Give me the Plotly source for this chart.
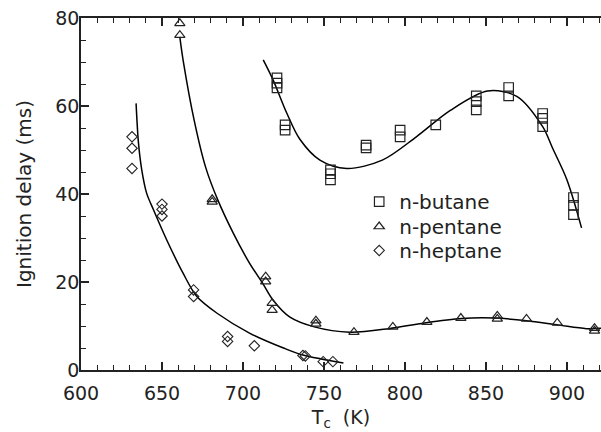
import plotly.graph_objects as go

butane_T = [721, 721, 721, 726, 726, 754, 754, 754, 776, 776, 797, 797, 819,
            844, 844, 844, 864, 864, 885, 885, 885, 904, 904, 904]
butane_delay = [66.4, 65.2, 64.1, 55.7, 54.5, 45.5, 44.6, 43.2, 50.5, 51.1, 54.5, 53.0, 55.7,
                62.3, 61.0, 59.1, 64.2, 62.3, 58.3, 57.2, 55.3, 39.2, 37.4, 35.3]

pentane_T = [661, 661, 681, 681, 714, 714, 718, 718, 745, 745, 768.5, 792.5, 813.5,
             834.5, 857, 857, 875, 894, 917, 917]
pentane_delay = [78.8, 76.1, 38.8, 38.2, 21.2, 20.1, 15.2, 13.6, 11.2, 10.5, 8.6, 9.8, 10.9,
                 11.8, 12.3, 11.6, 11.6, 10.7, 9.5, 8.9]

heptane_T = [631.5, 631.5, 631.5, 650, 650, 650, 669.5, 669.5, 690.5, 690.5, 707,
             737, 738.5, 749.5, 755.5]
heptane_delay = [53.0, 50.4, 45.8, 37.7, 36.5, 35.0, 18.2, 16.7, 7.6, 6.5, 5.5,
                 3.3, 3.2, 1.9, 1.9]

# fitted curves as drawn in the figure
butane_fit_T = [712.5, 718.5, 727, 735, 747.5, 764, 786, 807, 828, 851, 869, 885, 891, 900, 909]
butane_fit_delay = [70.5, 66.0, 58.4, 52.5, 47.7, 45.8, 47.7, 53.0, 59.0, 63.4, 62.2, 55.3, 50.5, 43.2, 32.3]

pentane_fit_T = [661, 663, 670, 677, 684.5, 694, 704, 712, 718.5, 729, 744, 766, 790, 812,
                 835, 855, 875, 895, 912, 922]
pentane_fit_delay = [75.7, 70.5, 56.5, 46.0, 38.6, 31.1, 24.3, 19.8, 15.9, 12.0, 9.8, 8.6, 9.4, 10.7,
                     11.7, 11.8, 11.2, 10.2, 9.4, 9.5]

heptane_fit_T = [634, 635.5, 637.5, 640.5, 645, 653, 663, 671.5, 684, 704, 725, 737, 762]
heptane_fit_delay = [60.6, 51.5, 45.5, 40.2, 36.2, 29.5, 22.0, 16.7, 12.9, 8.4, 5.0, 3.4, 1.6]

series_names = ["n-butane", "n-pentane", "n-heptane"]

x_ticks = [600, 650, 700, 750, 800, 850, 900]
y_ticks = [0, 20, 40, 60, 80]

FONT = "DejaVu Sans"
INK = "#222"

fig = go.Figure()

line_style = dict(color="black", width=1.5, shape="spline", smoothing=0.9)
for fx, fy in [(butane_fit_T, butane_fit_delay), (pentane_fit_T, pentane_fit_delay),
               (heptane_fit_T, heptane_fit_delay)]:
    fig.add_trace(go.Scatter(x=fx, y=fy, mode="lines", line=line_style,
                             showlegend=False, hoverinfo="skip"))

fig.add_trace(go.Scatter(x=butane_T, y=butane_delay, mode="markers", name=series_names[0],
                         legend="legend",
                         marker=dict(symbol="square-open", size=9.5, color=INK,
                                     line=dict(width=1.2, color=INK))))
fig.add_trace(go.Scatter(x=pentane_T, y=pentane_delay, mode="markers", name=series_names[1],
                         legend="legend2",
                         marker=dict(symbol="triangle-up-open", size=9, color=INK,
                                     line=dict(width=1.2, color=INK))))
fig.add_trace(go.Scatter(x=heptane_T, y=heptane_delay, mode="markers", name=series_names[2],
                         legend="legend3",
                         marker=dict(symbol="diamond-open", size=8, color=INK,
                                     line=dict(width=1.1, color=INK))))

legend_common = dict(x=0.535, xanchor="left", yanchor="top", bgcolor="rgba(0,0,0,0)",
                     font=dict(size=20, family=FONT, color=INK), itemwidth=30)

fig.update_layout(
    width=601, height=432,
    margin=dict(l=81, r=0, t=18, b=62, autoexpand=False),
    paper_bgcolor="white", plot_bgcolor="white",
    font=dict(family=FONT, size=19, color=INK),
    showlegend=True,
    legend=dict(y=0.534, **legend_common),
    legend2=dict(y=0.463, **legend_common),
    legend3=dict(y=0.395, **legend_common),
    xaxis=dict(range=[600, 921], tickvals=x_ticks, ticks="inside", ticklen=8,
               tickwidth=1.5, tickcolor=INK, showline=True, linecolor=INK,
               linewidth=1.5, showgrid=False, zeroline=False, automargin=False,
               mirror="allticks", ticklabelstandoff=5,
               minor=dict(dtick=10, ticks="inside", ticklen=5, tickwidth=1.2,
                          tickcolor=INK, showgrid=False),
               title=dict(text="T<sub>c</sub>  (K)", font=dict(size=19, family=FONT),
                          standoff=8)),
    yaxis=dict(range=[0, 80], tickvals=y_ticks, ticks="inside", ticklen=8,
               tickwidth=1.5, tickcolor=INK, showline=True, linecolor=INK,
               linewidth=1.5, showgrid=False, zeroline=False, automargin=False,
               ticklabelstandoff=-4,
               minor=dict(dtick=5, ticks="inside", ticklen=5, tickwidth=1.2,
                          tickcolor=INK, showgrid=False),
               title=dict(text="Ignition delay (ms)", font=dict(size=20, family=FONT),
                          standoff=18)),
)

fig.write_html("out.html",
               config={"displayModeBar": False},
               post_script="document.body.style.margin='0';document.body.style.overflow='hidden';")
